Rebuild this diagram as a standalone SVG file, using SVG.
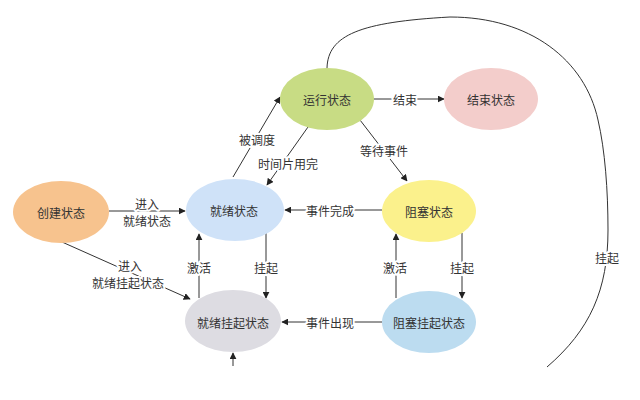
<svg xmlns="http://www.w3.org/2000/svg" width="640" height="400" viewBox="0 0 640 400">
<defs>
<marker id="ah" viewBox="0 0 10 10" refX="9" refY="5" markerWidth="7" markerHeight="7" markerUnits="userSpaceOnUse" orient="auto">
<path d="M0,0 L10,5 L0,10 z" fill="#222"/>
</marker>
<style>
text{font-family:"Noto Sans CJK SC","Noto Sans",sans-serif;font-size:12px;fill:#333;text-anchor:middle;dominant-baseline:central}
.lbl{stroke:#fff;stroke-width:4px;paint-order:stroke;stroke-linejoin:round}
.ln{fill:none;stroke:#333;stroke-width:1}
.ar{marker-end:url(#ah)}
</style>
</defs>
<rect width="640" height="400" fill="#fff"/>
<g id="connectors">
<path class="ln ar" d="M373,99 L444,99"/>
<path class="ln ar" d="M233,177 L280,97"/>
<path class="ln ar" d="M308,127 L267,185"/>
<path class="ln ar" d="M360,120 L407,181"/>
<path class="ln ar" d="M109,211 L185,211"/>
<path class="ln ar" d="M62,242 L190,299"/>
<path class="ln ar" d="M199,298 L199,234"/>
<path class="ln ar" d="M266,233 L266,298"/>
<path class="ln ar" d="M382,210 L285,210"/>
<path class="ln ar" d="M382,322 L282,322"/>
<path class="ln ar" d="M396,298 L396,234"/>
<path class="ln ar" d="M462,233 L462,298"/>
<path class="ln" d="M327,68 C328,35 360,22 450,17 C530,17 585,60 598,120 C605,150 608,190 608,230 C608,290 590,330 547,367"/>
<path class="ln ar" d="M233,366 L233,353"/>
<text class="lbl" x="405" y="99">结束</text>
<text class="lbl" x="257" y="139">被调度</text>
<text class="lbl" x="288" y="163">时间片用完</text>
<text class="lbl" x="384" y="150">等待事件</text>
<text class="lbl" x="147" y="203">进入</text>
<text class="lbl" x="147" y="220">就绪状态</text>
<text class="lbl" x="130" y="265">进入</text>
<text class="lbl" x="128" y="282">就绪挂起状态</text>
<text class="lbl" x="199" y="267">激活</text>
<text class="lbl" x="266" y="267">挂起</text>
<text class="lbl" x="330" y="210">事件完成</text>
<text class="lbl" x="330" y="322">事件出现</text>
<text class="lbl" x="395" y="267">激活</text>
<text class="lbl" x="462" y="267">挂起</text>
<text class="lbl" x="607" y="257">挂起</text>
</g>
<g id="create"><ellipse cx="61" cy="212" rx="48" ry="31" fill="#f7c38e"/><text x="61" y="212">创建状态</text></g>
<g id="ready"><ellipse cx="235" cy="210" rx="49" ry="31" fill="#cfe2f8"/><text x="234" y="210">就绪状态</text></g>
<g id="running"><ellipse cx="327" cy="99" rx="47" ry="31" fill="#c8dc84"/><text x="327" y="99">运行状态</text></g>
<g id="end"><ellipse cx="491" cy="99" rx="47" ry="31" fill="#f3cdcb"/><text x="491" y="99">结束状态</text></g>
<g id="blocked"><ellipse cx="429" cy="211" rx="47" ry="31" fill="#fbf18c"/><text x="429" y="211">阻塞状态</text></g>
<g id="readySuspended"><ellipse cx="233" cy="321" rx="48" ry="31" fill="#dddce2"/><text x="233" y="322">就绪挂起状态</text></g>
<g id="blockedSuspended"><ellipse cx="429" cy="322" rx="47" ry="31" fill="#bcdcf0"/><text x="429" y="322">阻塞挂起状态</text></g>
</svg>
